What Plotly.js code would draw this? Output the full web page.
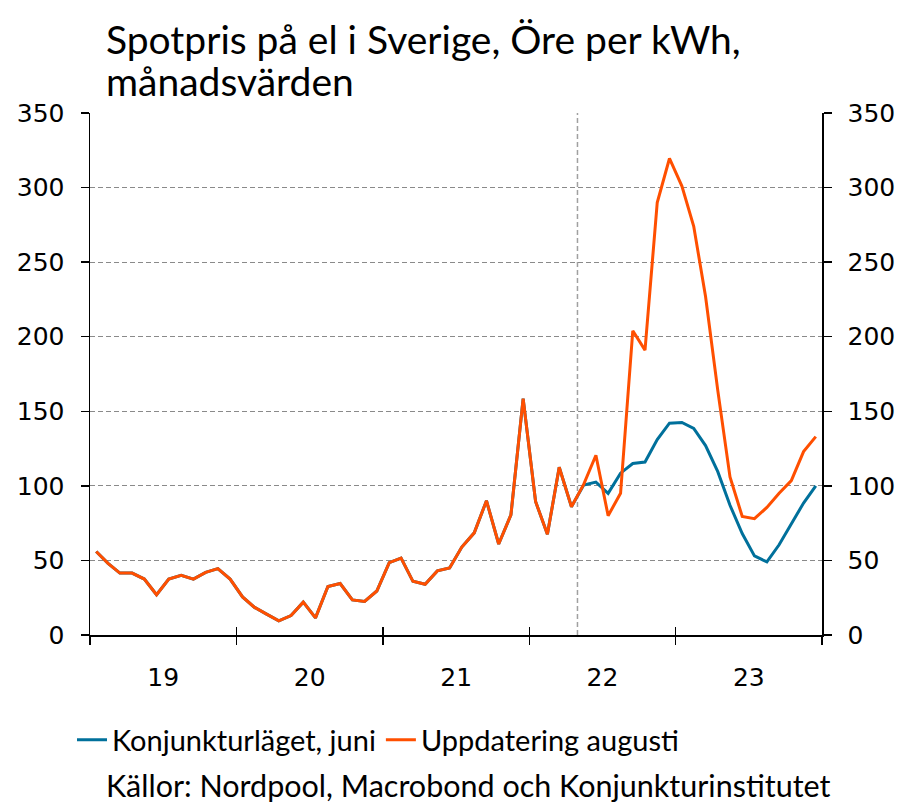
<!DOCTYPE html>
<html>
<head>
<meta charset="utf-8">
<script src="https://cdn.plot.ly/plotly-3.0.1.min.js"></script>
<style>html,body{margin:0;padding:0;background:#fff;}#chart{width:913px;height:805px;}</style>
</head>
<body>
<div id="chart"></div>
<script>
// Months (Jan 2019 - Dec 2023)
const months = [
  '2019-01','2019-02','2019-03','2019-04','2019-05','2019-06','2019-07','2019-08','2019-09','2019-10','2019-11','2019-12',
  '2020-01','2020-02','2020-03','2020-04','2020-05','2020-06','2020-07','2020-08','2020-09','2020-10','2020-11','2020-12',
  '2021-01','2021-02','2021-03','2021-04','2021-05','2021-06','2021-07','2021-08','2021-09','2021-10','2021-11','2021-12',
  '2022-01','2022-02','2022-03','2022-04','2022-05','2022-06','2022-07','2022-08','2022-09','2022-10','2022-11','2022-12',
  '2023-01','2023-02','2023-03','2023-04','2023-05','2023-06','2023-07','2023-08','2023-09','2023-10','2023-11','2023-12'
];

// Konjunkturläget, juni (öre/kWh)
const konjunkturlagetJuni = [
  56, 48, 41.5, 41.5, 37.5, 27, 37.5, 40, 37.5, 42, 44.5, 37.5,
  25.5, 18.5, 14, 9.5, 13, 22, 11.5, 32.5, 34.5, 23.5, 22.5, 29.5,
  48.5, 51.5, 36, 34, 43, 45, 59, 68.5, 90, 61, 80.5, 158.5,
  89.5, 67.5, 112.5, 86, 100.5, 102.5, 95, 108.5, 115, 116, 131, 142,
  142.5, 138.5, 127, 109.5, 87, 68, 53, 49, 60.5, 74.5, 88.5, 100
];

// Uppdatering augusti (öre/kWh)
const uppdateringAugusti = [
  56, 48, 41.5, 41.5, 37.5, 27, 37.5, 40, 37.5, 42, 44.5, 37.5,
  25.5, 18.5, 14, 9.5, 13, 22, 11.5, 32.5, 34.5, 23.5, 22.5, 29.5,
  48.5, 51.5, 36, 34, 43, 45, 59, 68.5, 90, 61, 80.5, 158.5,
  89.5, 67.5, 112.5, 86, 101, 120.5, 80, 95, 204, 191, 290, 319.5,
  301, 274, 227, 164, 106, 79.5, 78, 85.5, 95, 103.5, 123, 133
];

const yTicks = [0, 50, 100, 150, 200, 250, 300, 350];
const forecastStart = '2022-05-01';
const titleLines = ['Spotpris på el i Sverige, Öre per kWh,', 'månadsvärden'];
const sourceText = 'Källor: Nordpool, Macrobond och Konjunkturinstitutet';

const blue = '#00709b';
const orange = '#ff4f00';
const labelFont = {family: 'DejaVu Sans', size: 25, color: '#000'};
const textFont = 'Lato';

const traces = [
  {
    x: months, y: konjunkturlagetJuni, type: 'scatter', mode: 'lines',
    name: 'Konjunkturläget, juni', xperiod: 'M1', xperiodalignment: 'middle',
    line: {color: blue, width: 3}
  },
  {
    x: months, y: uppdateringAugusti, type: 'scatter', mode: 'lines',
    name: 'Uppdatering augusti', xperiod: 'M1', xperiodalignment: 'middle',
    line: {color: orange, width: 3}
  },
  { x: [null], y: [null], xaxis: 'x2', yaxis: 'y2', showlegend: false, hoverinfo: 'skip', mode: 'lines' }
];

const xRange = ['2019-01-01', '2024-01-01'];
const py = v => (635 - v) / 522;   // pixel row -> paper y
const px = v => (v - 90) / 732;    // pixel col -> paper x

const layout = {
  width: 913, height: 805,
  margin: {l: 90, r: 91, t: 113, b: 170},
  paper_bgcolor: '#fff', plot_bgcolor: '#fff',
  xaxis: {
    type: 'date', range: xRange, tick0: '2019-01-01', dtick: 'M12',
    tickformat: '%y', ticklabelmode: 'period',
    showgrid: false, zeroline: false,
    showline: true, linecolor: '#000', linewidth: 1.5,
    ticks: 'outside', ticklen: 8, tickwidth: 1.5, tickcolor: '#000',
    tickfont: labelFont, ticklabelstandoff: 11
  },
  xaxis2: {
    type: 'date', range: xRange, tick0: '2019-01-01', dtick: 'M12',
    overlaying: 'x', anchor: 'y', side: 'bottom',
    showgrid: false, zeroline: false, showline: false, showticklabels: false,
    ticks: 'inside', ticklen: 8, tickwidth: 1.5, tickcolor: '#000'
  },
  yaxis: {
    range: [0, 350], tickvals: yTicks, ticktext: yTicks.map(String),
    showgrid: true, gridcolor: '#8a8a8a', gridwidth: 1, griddash: '5px,3px',
    zeroline: false, showline: true, linecolor: '#000', linewidth: 1.5,
    ticks: 'outside', ticklen: 8, tickwidth: 1.5, tickcolor: '#000',
    tickfont: labelFont, ticklabelstandoff: 11
  },
  yaxis2: {
    range: [0, 350], tickvals: yTicks, ticktext: yTicks.map(String),
    overlaying: 'y', side: 'right', anchor: 'x',
    showgrid: false, zeroline: false, showline: true, linecolor: '#000', linewidth: 1.5,
    ticks: 'outside', ticklen: 8, tickwidth: 1.5, tickcolor: '#000',
    tickfont: labelFont, ticklabelstandoff: 11
  },
  shapes: [{
    type: 'line', xref: 'x', yref: 'paper', x0: forecastStart, x1: forecastStart, y0: 0, y1: 1,
    line: {color: '#a0a0a0', width: 1.5, dash: '5px,3px'}, layer: 'below'
  }],
  showlegend: true,
  legend: {
    orientation: 'h', xref: 'container', x: 72/913, xanchor: 'left',
    yref: 'container', y: 1 - 740/805, yanchor: 'middle',
    font: {family: textFont, size: 29, color: '#000'},
    itemwidth: 30, tracegroupgap: 0, bgcolor: 'rgba(0,0,0,0)'
  },
  annotations: [
    {
      text: titleLines[0], xref: 'paper', yref: 'paper', x: px(104), y: py(39),
      xanchor: 'left', yanchor: 'middle', showarrow: false,
      font: {family: textFont, size: 39, color: '#000'}
    },
    {
      text: titleLines[1], xref: 'paper', yref: 'paper', x: px(104), y: py(81),
      xanchor: 'left', yanchor: 'middle', showarrow: false,
      font: {family: textFont, size: 39, color: '#000'}
    },
    {
      text: sourceText, xref: 'paper', yref: 'paper', x: px(104), y: py(785),
      xanchor: 'left', yanchor: 'middle', showarrow: false,
      font: {family: textFont, size: 30.5, color: '#000'}
    }
  ]
};

Plotly.newPlot('chart', traces, layout, {displayModeBar: false, staticPlot: true});
</script>
</body>
</html>
